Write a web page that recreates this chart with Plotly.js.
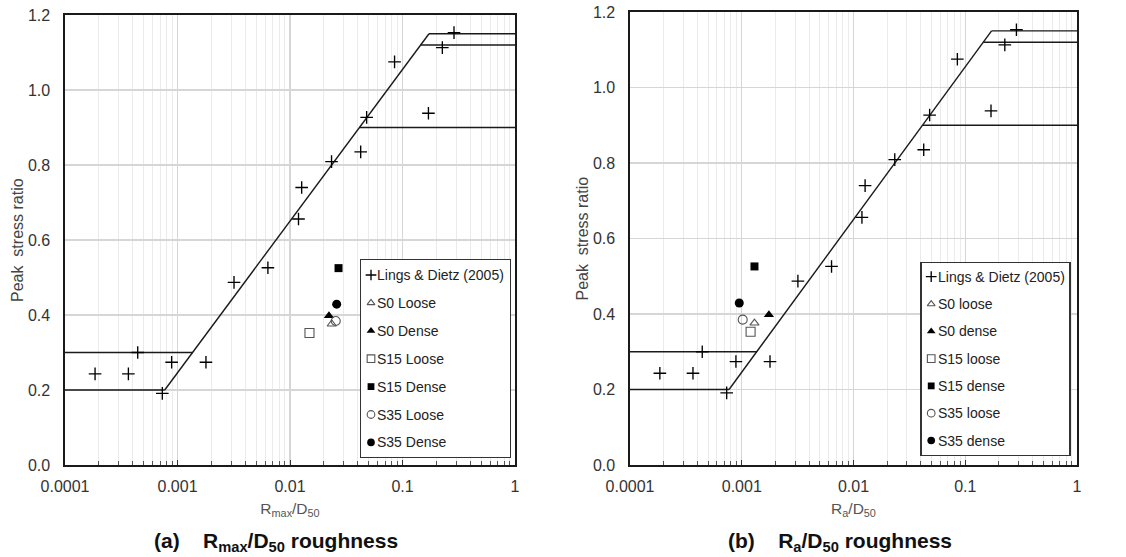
<!DOCTYPE html>
<html>
<head>
<meta charset="utf-8">
<script src="https://cdn.plot.ly/plotly-3.0.1.min.js"></script>
<style>
  html, body { margin: 0; padding: 0; background: #ffffff; }
  #chart { width: 1126px; height: 557px; }
</style>
</head>
<body>
<div id="chart"></div>
<script>
// ---- Lings & Dietz (2005) interface shear tests (same set on both panels) ----
const lingsRatio  = [0.000185, 0.000366, 0.000443, 0.000733, 0.000887, 0.00179, 0.00318, 0.00636,
                     0.0119, 0.0127, 0.0234, 0.0425, 0.048, 0.085, 0.170, 0.226, 0.287];
const lingsStress = [0.243, 0.243, 0.300, 0.191, 0.274, 0.274, 0.487, 0.526,
                     0.656, 0.740, 0.809, 0.835, 0.927, 1.075, 0.938, 1.113, 1.153];

// ---- Design envelope: one sloped limit plus plateau levels ----
const slopeRatio    = [0.00077, 0.172];
const slopeStress   = [0.2, 1.15];
const plateauLevel  = [0.2, 0.3, 0.9, 1.12, 1.15];
const plateauStart  = [0.0001, 0.0001, 0.0415, 0.145, 0.172];
const plateauEnd    = [0.00077, 0.00137, 1, 1, 1];

// ---- Shear box tests, panel (a): Rmax/D50 ----
const namesA      = ['S0 Loose', 'S0 Dense', 'S15 Loose', 'S15 Dense', 'S35 Loose', 'S35 Dense'];
const rmaxRatio   = [0.0235, 0.0222, 0.0149, 0.027, 0.0255, 0.026];
const rmaxStress  = [0.376, 0.398, 0.352, 0.525, 0.384, 0.429];

// ---- Shear box tests, panel (b): Ra/D50 ----
const namesB      = ['S0 loose', 'S0 dense', 'S15 loose', 'S15 dense', 'S35 loose', 'S35 dense'];
const raRatio     = [0.0013, 0.00175, 0.0012, 0.0013, 0.00102, 0.00095];
const raStress    = [0.376, 0.398, 0.353, 0.526, 0.385, 0.429];

const lingsName   = 'Lings & Dietz (2005)';
const yTitle      = 'Peak\u00a0 stress ratio';

// ---- Tick labels ----
const xTickVals = [0.0001, 0.001, 0.01, 0.1, 1];
const xTickText = ['0.0001', '0.001', '0.01', '0.1', '1'];
const yTickVals = [0, 0.2, 0.4, 0.6, 0.8, 1.0, 1.2];
const yTickText = ['0.0', '0.2', '0.4', '0.6', '0.8', '1.0', '1.2'];

// minor log gridlines 2..9 in each decade
const minorVals = [];
for (let d = -4; d < 0; d++) for (let k = 2; k <= 9; k++) minorVals.push(k * Math.pow(10, d));

const FONT = 'Arial, "Liberation Sans", Helvetica, sans-serif';
const W = 1126, H = 557;

// marker look for each test series
const seriesStyle = [
  { symbol: 'triangle-up-open', size: 8, color: '#555555', lw: 1.1 },
  { symbol: 'triangle-up',      size: 9, color: '#000000', lw: 0 },
  { symbol: 'square-open',      size: 9, color: '#555555', lw: 1.1 },
  { symbol: 'square',           size: 8, color: '#000000', lw: 0 },
  { symbol: 'circle-open',      size: 9, color: '#555555', lw: 1.1 },
  { symbol: 'circle',           size: 9, color: '#000000', lw: 0 }
];
const lingsStyle = { symbol: 'cross-thin', size: 9, color: '#000000', lw: 1.35 };

function markerOf(st, scale) {
  return { symbol: st.symbol, size: st.size * (scale || 1), color: st.color,
           line: { color: st.color, width: st.lw } };
}

const traces = [];
const annotations = [];

function addPanel(xa, ya, ratio, stress, names) {
  // envelope
  traces.push({ x: slopeRatio, y: slopeStress, xaxis: xa, yaxis: ya, mode: 'lines',
                line: { color: '#1a1a1a', width: 1.4 }, hoverinfo: 'skip', showlegend: false });
  plateauLevel.forEach((lvl, i) => {
    traces.push({ x: [plateauStart[i], plateauEnd[i]], y: [lvl, lvl], xaxis: xa, yaxis: ya,
                  mode: 'lines', line: { color: '#1a1a1a', width: 1.4 },
                  hoverinfo: 'skip', showlegend: false });
  });
  // literature data
  traces.push({ x: lingsRatio, y: lingsStress, xaxis: xa, yaxis: ya, mode: 'markers',
                name: lingsName, marker: markerOf(lingsStyle), showlegend: false, cliponaxis: false });
  // test series
  names.forEach((nm, i) => {
    traces.push({ x: [ratio[i]], y: [stress[i]], xaxis: xa, yaxis: ya, mode: 'markers',
                  name: nm, marker: markerOf(seriesStyle[i]), showlegend: false, cliponaxis: false });
  });
}

addPanel('x', 'y', rmaxRatio, rmaxStress, namesA);
addPanel('x2', 'y2', raRatio, raStress, namesB);

// boxed key drawn on its own small subplot (pixel units inside the box)
function addKey(xa, ya, names, rowTop, rowStep, symX, textX) {
  const labels = [lingsName].concat(names);
  const styles = [lingsStyle].concat(seriesStyle);
  labels.forEach((lb, i) => {
    const yy = rowTop + i * rowStep;
    traces.push({ x: [symX], y: [yy], xaxis: xa, yaxis: ya, mode: 'markers',
                  marker: markerOf(styles[i], 0.85),
                  hoverinfo: 'skip', showlegend: false, cliponaxis: false });
    annotations.push({ xref: xa, yref: ya, x: textX, y: yy, text: lb, showarrow: false,
                       xanchor: 'left', yanchor: 'middle',
                       font: { family: FONT, size: 14, color: '#222222' } });
  });
}
addKey('x3', 'y3', namesA, 15, 27.9, 10, 14);
addKey('x4', 'y4', namesB, 13.4, 27.3, 9.5, 14);

// vertical axis titles
[[17, 240], [581.5, 239]].forEach(p => {
  annotations.push({ xref: 'paper', yref: 'paper', x: p[0] / W, y: 1 - p[1] / H,
    text: yTitle, textangle: -90, showarrow: false, xanchor: 'center', yanchor: 'middle',
    font: { family: FONT, size: 16, color: '#444444' } });
});

// panel captions
annotations.push({ xref: 'paper', yref: 'paper', x: 276 / W, y: 1 - 542 / H,
  text: '<b>(a)\u00a0\u00a0\u00a0\u00a0R<sub>max</sub>/D<sub>50</sub> roughness</b>',
  showarrow: false, xanchor: 'center', yanchor: 'middle',
  font: { family: FONT, size: 21, color: '#111111' } });
annotations.push({ xref: 'paper', yref: 'paper', x: 840 / W, y: 1 - 542 / H,
  text: '<b>(b)\u00a0\u00a0\u00a0\u00a0R<sub>a</sub>/D<sub>50</sub> roughness</b>',
  showarrow: false, xanchor: 'center', yanchor: 'middle',
  font: { family: FONT, size: 21, color: '#111111' } });

function xAxis(domain, title) {
  return {
    type: 'log', range: [-4, 0], domain: domain, autorange: false,
    tickmode: 'array', tickvals: xTickVals, ticktext: xTickText,
    ticks: 'inside', ticklen: 5, tickwidth: 1, tickcolor: '#333333',
    showgrid: true, gridcolor: '#d6d6d6', gridwidth: 1.2,
    minor: { tickmode: 'array', tickvals: minorVals, ticks: 'inside', ticklen: 4,
             tickcolor: '#555555', tickwidth: 1, showgrid: true, gridcolor: '#ebebeb', gridwidth: 1 },
    showline: true, mirror: true, linecolor: '#1a1a1a', linewidth: 1.6, zeroline: false,
    tickfont: { family: FONT, size: 16, color: '#333333' }, ticklabelstandoff: 6,
    title: { text: title, font: { family: FONT, size: 15.5, color: '#555555' }, standoff: 9 },
    fixedrange: true
  };
}
function yAxis(domain, anchor) {
  return {
    range: [0, 1.2], domain: domain, anchor: anchor, autorange: false,
    tickmode: 'array', tickvals: yTickVals, ticktext: yTickText,
    ticks: '', showgrid: true, gridcolor: '#d6d6d6', gridwidth: 1.2,
    showline: true, mirror: true, linecolor: '#1a1a1a', linewidth: 1.6, zeroline: false,
    tickfont: { family: FONT, size: 16, color: '#333333' }, ticklabelstandoff: 10,
    fixedrange: true
  };
}
function keyAxis(domain, range, anchor) {
  return { domain: domain, range: range, autorange: false, anchor: anchor,
           showgrid: false, zeroline: false, showticklabels: false, ticks: '',
           showline: true, mirror: true, linecolor: '#333333', linewidth: 1.3, fixedrange: true };
}

const layout = {
  width: W, height: H,
  margin: { l: 0, r: 0, t: 0, b: 0 },
  paper_bgcolor: '#ffffff', plot_bgcolor: '#ffffff',
  showlegend: false,
  font: { family: FONT, color: '#333333' },
  xaxis:  xAxis([65 / W, 515 / W], 'R<sub>max</sub>/D<sub>50</sub>'),
  yaxis:  yAxis([1 - 465 / H, 1 - 15 / H], 'x'),
  xaxis2: Object.assign(xAxis([630 / W, 1077 / W], 'R<sub>a</sub>/D<sub>50</sub>'), { anchor: 'y2' }),
  yaxis2: yAxis([1 - 465 / H, 1 - 12 / H], 'x2'),
  xaxis3: keyAxis([361 / W, 510 / W], [0, 149], 'y3'),
  yaxis3: keyAxis([1 - 456.7 / H, 1 - 260 / H], [196.7, 0], 'x3'),
  xaxis4: keyAxis([921.7 / W, 1069.3 / W], [0, 147.6], 'y4'),
  yaxis4: keyAxis([1 - 455 / H, 1 - 263.3 / H], [191.7, 0], 'x4'),
  annotations: annotations
};
layout.xaxis.anchor = 'y';

Plotly.newPlot('chart', traces, layout, { displayModeBar: false, staticPlot: true });
</script>
</body>
</html>
